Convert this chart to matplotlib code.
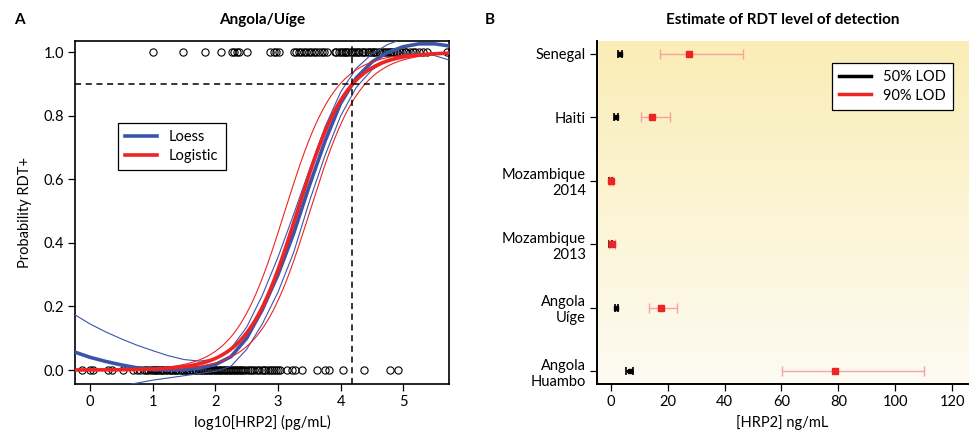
import numpy as np
import matplotlib
matplotlib.use("Agg")
import matplotlib.pyplot as plt
from matplotlib.colors import LinearSegmentedColormap
from matplotlib.lines import Line2D

plt.rcParams['font.family'] = ['Lato', 'DejaVu Sans']

# ---------------- Data: panel A (log10 HRP2, RDT result) ----------------
neg_x = [-0.13, 0.0, 0.05, 0.29, 0.35, 0.53, 0.69, 0.75, 0.80,
         0.86, 0.90, 0.93, 0.97, 1.00, 1.03, 1.06, 1.08, 1.12, 1.15, 1.17, 1.21,
         1.23, 1.27, 1.30, 1.32, 1.36, 1.38, 1.41, 1.45, 1.47, 1.50, 1.53, 1.55,
         1.58, 1.62, 1.63, 1.67, 1.69, 1.72, 1.75, 1.77, 1.80, 1.83, 1.85, 1.88,
         1.91, 1.93, 1.96, 1.99, 2.01, 2.04, 2.07, 2.09, 2.12, 2.15, 2.17, 2.20,
         2.23, 2.25, 2.28, 2.31, 2.33, 2.36, 2.39, 2.41, 2.44, 2.47, 2.52, 2.56,
         2.58, 2.62, 2.66, 2.70, 2.74, 2.77, 2.80, 2.84, 2.87, 2.90, 2.94, 2.97,
         3.00, 3.04, 3.14, 3.22, 3.27, 3.38, 3.62, 3.75, 3.81, 4.04, 4.38, 4.79, 4.91]
pos_x = [1.00, 1.49, 1.83, 2.09, 2.26, 2.30, 2.34, 2.38, 2.50, 2.88, 2.93, 2.97,
         3.02, 3.25, 3.29, 3.33, 3.37, 3.42, 3.45, 3.50, 3.53, 3.57, 3.61, 3.65,
         3.70, 3.74, 3.78, 3.91, 3.93, 3.97, 4.00, 4.03, 4.07, 4.09, 4.12, 4.16,
         4.18, 4.21, 4.25, 4.27, 4.30, 4.34, 4.36, 4.39, 4.43, 4.45, 4.48, 4.52,
         4.54, 4.57, 4.61, 4.63, 4.66, 4.70, 4.72, 4.75, 4.79, 4.81, 4.84, 4.88,
         4.90, 4.94, 4.98, 5.02, 5.05, 5.10, 5.15, 5.19, 5.25, 5.31, 5.38, 5.70]

# logistic model (fitted parameters)
logit_mid = 3.31        # log10 HRP2 at 50% probability
logit_slope = 2.5       # slope on the logit scale
logit_ci_shift = 0.2    # horizontal half-width of the 95% band
lod_level = 0.9

# loess smoother with 95% band
loess_x = [-0.25, 0.0, 0.25, 0.5, 0.75, 1.0, 1.25, 1.5, 1.75, 2.0, 2.25, 2.5,
           2.75, 3.0, 3.25, 3.5, 3.75, 4.0, 4.25, 4.5, 4.75, 5.0, 5.25, 5.5, 5.75]
loess_fit = [0.057, 0.040, 0.027, 0.016, 0.007, 0.002, 0.000, 0.001, 0.006, 0.017,
             0.042, 0.100, 0.190, 0.300, 0.430, 0.580, 0.720, 0.840, 0.920, 0.970,
             1.000, 1.018, 1.027, 1.027, 1.020]
loess_hi = [0.175, 0.145, 0.120, 0.098, 0.078, 0.061, 0.045, 0.033, 0.028, 0.035,
            0.068, 0.135, 0.235, 0.355, 0.490, 0.630, 0.765, 0.875, 0.950, 0.995,
            1.025, 1.043, 1.050, 1.050, 1.045]
loess_lo = [-0.090, -0.075, -0.062, -0.050, -0.041, -0.032, -0.025, -0.018, -0.011,
            -0.004, 0.012, 0.065, 0.145, 0.245, 0.370, 0.530, 0.675, 0.800, 0.890,
            0.945, 0.975, 0.993, 0.998, 0.990, 0.975]

# ---------------- Data: panel B ----------------
sites = ['Senegal', 'Haiti', 'Mozambique\n2014', 'Mozambique\n2013',
         'Angola\nUíge', 'Angola\nHuambo']
lod50 = [3.2, 2.0, 0.0, 0.0, 2.0, 6.8]
lod50_lo = [2.5, 1.3, -0.5, -0.6, 1.4, 5.3]
lod50_hi = [3.9, 2.6, 0.5, 0.5, 2.5, 7.8]
lod90 = [27.5, 14.4, 0.2, 0.5, 17.8, 78.7]
lod90_lo = [17.5, 10.6, -0.4, -0.5, 13.4, 60.1]
lod90_hi = [46.4, 20.8, 0.8, 1.4, 23.3, 110.1]

BLUE = '#3a55a8'
RED = '#ee2324'

x = np.array(neg_x + pos_x)
y = np.array([0.0] * len(neg_x) + [1.0] * len(pos_x))
grid = np.linspace(-0.25, 5.75, 400)


def expit(t):
    return 1 / (1 + np.exp(-t))


log_fit = expit(logit_slope * (grid - logit_mid))
log_hi = expit(logit_slope * (grid - (logit_mid - logit_ci_shift)))
log_lo = expit(logit_slope * (grid - (logit_mid + logit_ci_shift)))
x90 = logit_mid + np.log(lod_level / (1 - lod_level)) / logit_slope

# ---------------- Figure ----------------
fig = plt.figure(figsize=(9.7, 4.36), dpi=100)
axA = fig.add_axes([0.0773, 0.1193, 0.3856, 0.7867])
axB = fig.add_axes([0.6155, 0.1193, 0.3825, 0.7867])

# Panel A
axA.plot(x, y, 'o', mfc='none', mec='black', ms=5.2, mew=0.8, zorder=2)
axA.plot(loess_x, loess_lo, color=BLUE, lw=0.8, zorder=3)
axA.plot(loess_x, loess_hi, color=BLUE, lw=0.8, zorder=3)
axA.plot(loess_x, loess_fit, color=BLUE, lw=2.6, zorder=4, label='Loess')
axA.plot(grid, log_lo, color=RED, lw=0.8, zorder=5)
axA.plot(grid, log_hi, color=RED, lw=0.8, zorder=5)
axA.plot(grid, log_fit, color=RED, lw=2.6, zorder=6, label='Logistic')
axA.axhline(lod_level, color='black', lw=1.1, ls=(0, (4, 3)), zorder=7)
axA.axvline(x90, color='black', lw=1.1, ls=(0, (4, 3)), zorder=7)
axA.set_xlim(-0.24, 5.73)
axA.set_ylim(-0.044, 1.036)
axA.set_xticks([0, 1, 2, 3, 4, 5])
axA.set_yticks([0.0, 0.2, 0.4, 0.6, 0.8, 1.0])
axA.set_yticklabels(['0.0', '0.2', '0.4', '0.6', '0.8', '1.0'])
axA.tick_params(direction='out', length=5, width=0.9, labelsize=10.5, pad=3)
for s in axA.spines.values():
    s.set_linewidth(1.2)
axA.set_xlabel('log10[HRP2] (pg/mL)', fontsize=10.5, labelpad=4)
axA.set_ylabel('Probability RDT+', fontsize=10.5, labelpad=8)
axA.set_title('Angola/Uíge', fontsize=11, fontweight='bold', pad=12)
legA = axA.legend(loc='upper left', bbox_to_anchor=(0.115, 0.761), fontsize=10.5,
                  frameon=True, fancybox=False, edgecolor='black', borderaxespad=0,
                  handlelength=2.2, borderpad=0.5, labelspacing=0.3, framealpha=1)
legA.get_frame().set_linewidth(0.9)

# Panel B
ypos = np.arange(len(sites), 0, -1)
cmap = LinearSegmentedColormap.from_list('bg', ['#fdfbf3', '#faedb6'])
axB.imshow(np.linspace(0, 1, 256).reshape(-1, 1)[::-1], cmap=cmap, aspect='auto',
           extent=[0, 1, 0, 1], transform=axB.transAxes, zorder=0)
l50 = np.array(lod50)
axB.errorbar(lod50, ypos, xerr=[l50 - np.array(lod50_lo), np.array(lod50_hi) - l50],
             fmt='s', color='black', ms=3.5, ecolor='black', elinewidth=2.2,
             capsize=3, capthick=1.2, zorder=3)
l90 = np.array(lod90)
eb = axB.errorbar(lod90, ypos, xerr=[l90 - np.array(lod90_lo), np.array(lod90_hi) - l90],
                  fmt='s', color=RED, ms=4.5, ecolor='#f7a1a1', elinewidth=1.0,
                  capsize=3.5, capthick=1.0, zorder=4)
for c in eb[1]:
    c.set_color(RED)
axB.set_xlim(-4.8, 125.6)
axB.set_ylim(0.8, 6.2)
axB.set_xticks([0, 20, 40, 60, 80, 100, 120])
axB.set_yticks(ypos)
axB.set_yticklabels(sites, multialignment='right')
axB.tick_params(direction='out', length=5, width=0.9, labelsize=10.5, pad=3)
axB.spines['top'].set_visible(False)
axB.spines['right'].set_visible(False)
axB.spines['left'].set_linewidth(1.4)
axB.spines['bottom'].set_linewidth(1.4)
axB.set_xlabel('[HRP2] ng/mL', fontsize=10.5, labelpad=4)
axB.set_title('Estimate of RDT level of detection', fontsize=11, fontweight='bold', pad=12)
hB = [Line2D([], [], color='black', lw=2.5), Line2D([], [], color=RED, lw=2.5)]
legB = axB.legend(hB, ['50% LOD', '90% LOD'], loc='upper right',
                  bbox_to_anchor=(0.96, 0.936), fontsize=10.5, frameon=True,
                  fancybox=False, edgecolor='black', borderaxespad=0,
                  handlelength=2.2, borderpad=0.5, labelspacing=0.3, framealpha=1)
legB.get_frame().set_linewidth(0.9)

fig.text(0.014, 0.955, 'A', fontsize=11, fontweight='bold', va='center')
fig.text(0.5, 0.955, 'B', fontsize=11, fontweight='bold', va='center')

fig.savefig('out.png', dpi=100)
